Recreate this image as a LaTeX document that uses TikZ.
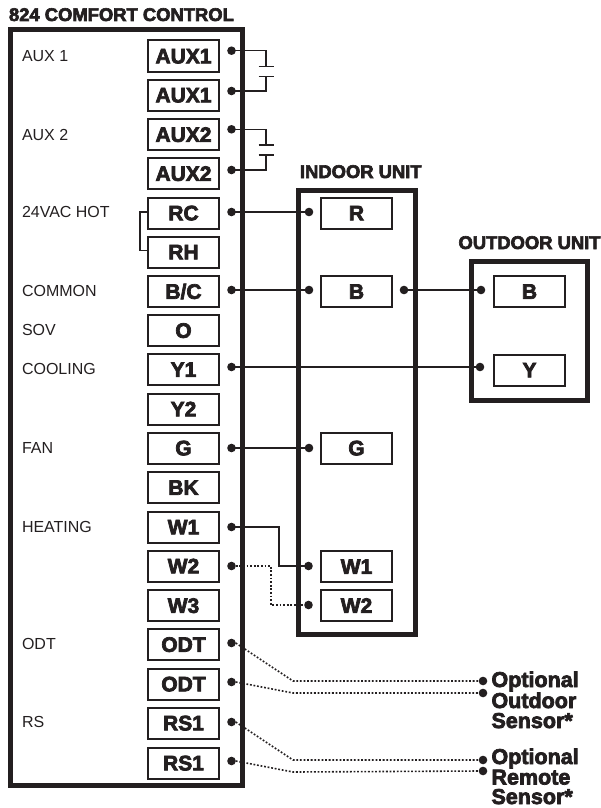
\documentclass[tikz,border=0pt]{standalone}
\usepackage{fontspec}
\setmainfont{Liberation Sans}
\newfontfamily\hv[FakeBold=3.4]{Liberation Sans Bold}
\usetikzlibrary{calc}
\definecolor{ink}{HTML}{231F20}
\tikzset{
 x=1pt,y=-1pt,
 every node/.style={text=ink,inner sep=0pt,outer sep=0pt},
 term/.style={draw=ink,line width=2pt,minimum width=71pt,minimum height=31pt,font=\hv\fontsize{21}{21}\selectfont,text height=14.7pt,text depth=0pt},
 unit/.style={draw=ink,line width=5pt},
 pin/.style={circle,fill=ink,minimum size=8.6pt},
 wire/.style={draw=ink,line width=1.3pt},
 dotwire/.style={draw=ink,line width=1.6pt,dash pattern=on 1.8pt off 1.8pt},
 plate/.style={draw=ink,line width=1.3pt},
 side/.style={anchor=west,font=\fontsize{16}{16}\selectfont},
 head/.style={anchor=base west,font=\hv\fontsize{18.4}{18.4}\selectfont},
 sens/.style={anchor=base west,font=\hv\fontsize{21.5}{21.5}\selectfont},
}
\begin{document}
\begin{tikzpicture}
\useasboundingbox (0,0) rectangle (600,808);
% unit frames
\draw[unit] (10.5,29.5) rectangle (242.5,785.5);
\draw[unit] (298,190) rectangle (415,634);
\draw[unit] (471,261) rectangle (587,400);
% headings
\node[head] at (9,21) {824 COMFORT CONTROL};
\node[head] at (300,178) {INDOOR UNIT};
\node[head] at (458.5,249) {OUTDOOR UNIT};
% controller terminals
\foreach \nm/\txt/\yy in {a/AUX1/56,b/AUX1/95,c/AUX2/134.5,d/AUX2/173.5,e/RC/213,f/RH/252,g/B\slash C/291.5,h/O/330.5,i/Y1/369.5,j/Y2/409,k/G/448,l/BK/487.5,m/W1/527,n/W2/566,o/W3/605.5,p/ODT/644.5,q/ODT/684,r/RS1/723,s/RS1/763}
  \node[term] (t\nm) at (183.5,\yy) {\txt};
% indoor and outdoor terminals
\node[term] (iR) at (356.5,213) {R};
\node[term] (iB) at (356.5,291.5) {B};
\node[term] (iG) at (356.5,448) {G};
\node[term] (iW) at (356.5,566.5) {W1};
\node[term] (iX) at (356.5,605.5) {W2};
\node[term] (oB) at (529.5,291.5) {B};
\node[term] (oY) at (529.5,370) {Y};
% side labels
\foreach \yy/\txt in {56/AUX 1,134.5/AUX 2,212/24VAC HOT,290.5/COMMON,330/SOV,369/COOLING,448/FAN,527/HEATING,644/ODT,722/RS}
  \node[side] at (22,\yy) {\txt};
% pins
\foreach \nm/\xx/\yy in {pa/231.5/50.7,pb/231.5/91,pc/231.5/129.3,pd/231.5/170,pe/231.5/212,pg/231.5/290,pi/231.5/367,pk/231.5/448,pm/231.5/527,pn/231.5/566,pp/231.5/643,pq/231.5/682,pr/231.5/722,ps/231.5/761,
  qR/309/212,qB/309/290,qC/404/290,qG/309/448,qW/308.5/566,qX/308.5/605,rB/481/290,rY/480/367,
  sa/483/681,sb/483/693,sc/483/760,sd/483/771}
  \node[pin] (\nm) at (\xx,\yy) {};
% AUX contacts
\coordinate (c1) at (266,66.7); \coordinate (c2) at (266,76.7);
\coordinate (c3) at (266,145);  \coordinate (c4) at (266,155);
\draw[wire] (pa.center) -| (c1);
\draw[wire] (pb.center) -| (c2);
\draw[wire] (pc.center) -| (c3);
\draw[wire] (pd.center) -| (c4);
\foreach \c in {c1,c2,c3,c4}
  \draw[plate] ($(\c)+(-7.5,0)$) -- ($(\c)+(7.5,0)$);
% RC-RH jumper
\coordinate (jt) at (140,212); \coordinate (jb) at (140,250.5);
\draw[wire] (te.west|-jt) -- (jt) -- (jb) -- (tf.west|-jb);
% solid wires
\draw[wire] (pe.center) -- (qR.center);
\draw[wire] (pg.center) -- (qB.center);
\draw[wire] (qC.center) -- (rB.center);
\draw[wire] (pi.center) -- (rY.center);
\draw[wire] (pk.center) -- (qG.center);
\coordinate (w1) at (279,527);
\draw[wire] (pm.center) -- (w1) |- (qW.center);
% dotted wires
\coordinate (w2) at (271,566);
\draw[dotwire] (pn.east) -- (w2) |- (qX.west);
\coordinate (d1) at (293,681); \coordinate (d2) at (293,693);
\coordinate (d3) at (293,760); \coordinate (d4) at (293,772);
\draw[dotwire] (pp.east) -- (d1) -- (sa.west);
\draw[dotwire] (pq.east) -- (d2) -- (sb.west);
\draw[dotwire] (pr.east) -- (d3) -- (sc.west);
\draw[dotwire] (ps.east) -- (d4) -- (sd.west);
% sensor labels
\node[sens] at (491.5,687) {Optional};
\node[sens] at (491.5,708) {Outdoor};
\node[sens] at (491.5,728) {Sensor*};
\node[sens] at (491.5,764) {Optional};
\node[sens] at (491.5,784.5) {Remote};
\node[sens] at (491.5,804) {Sensor*};
\end{tikzpicture}
\end{document}
